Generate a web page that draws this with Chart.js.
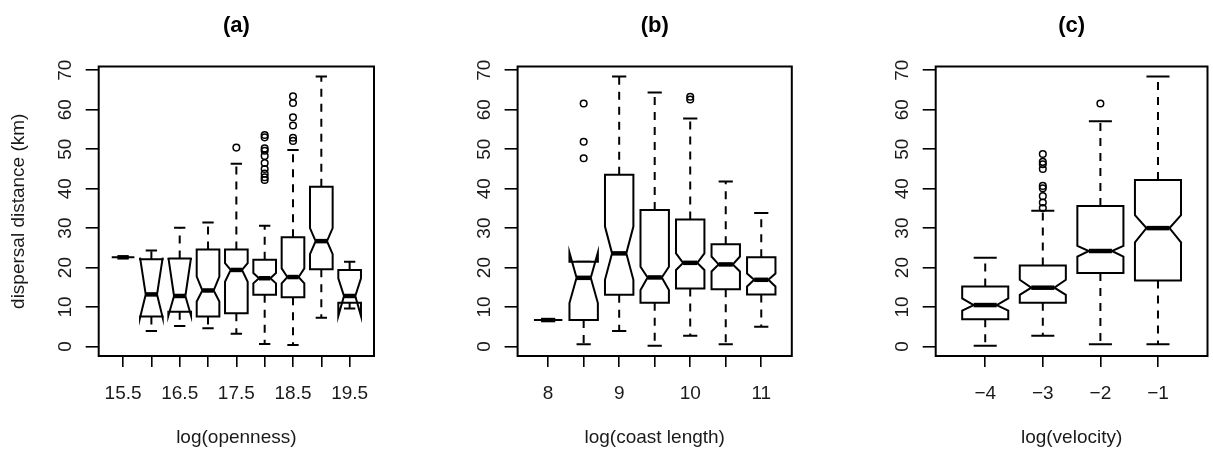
<!DOCTYPE html>
<html>
<head>
<meta charset="utf-8">
<script src="https://cdn.jsdelivr.net/npm/chart.js@4.4.1/dist/chart.umd.min.js"></script>
<style>
  html, body { margin: 0; padding: 0; background: #ffffff; }
  body { width: 1213px; height: 457px; position: relative; overflow: hidden; }
  canvas { position: absolute; top: 0; }
</style>
</head>
<body>
<canvas id="ca" width="404" height="457" style="left:0px"></canvas>
<canvas id="cb" width="404" height="457" style="left:404px"></canvas>
<canvas id="cc" width="405" height="457" style="left:808px"></canvas>
<script>
// ---------- Panel (a): log(openness) ----------
const catsA = [15.5, 16, 16.5, 17, 17.5, 18, 18.5, 19, 19.5];
const tickLabelsA = ['15.5', '', '16.5', '', '17.5', '', '18.5', '', '19.5'];
const whiskLoA = [22.6, 3.9, 5.2, 4.6, 3.2, 0.6, 0.4, 7.3, 9.6];
const q1A      = [22.6, 7.6, 8.8, 7.6, 8.4, 13.1, 12.5, 19.6, 11.1];
const notchLoA = [22.6, 7.3, 7.8, 11.4, 16.4, 16.0, 16.0, 23.4, 7.7];
const medA     = [22.6, 13.2, 12.8, 14.2, 19.4, 17.3, 17.6, 26.7, 12.8];
const notchHiA = [22.6, 22.5, 22.5, 17.7, 21.1, 18.6, 19.8, 30.0, 17.3];
const q3A      = [22.6, 22.1, 22.3, 24.6, 24.6, 22.0, 27.7, 40.5, 19.4];
const whiskHiA = [22.6, 24.3, 30.1, 31.4, 46.3, 30.6, 49.8, 68.4, 21.5];
const outA     = [[], [], [], [], [50.4],
                  [53.6, 53.0, 50.2, 49.6, 48.3, 46.5, 45.0, 43.8, 42.9, 42.2],
                  [63.4, 61.7, 58.1, 56.0, 52.9, 52.1], [], []];

// ---------- Panel (b): log(coast length) ----------
const catsB = [8, 8.5, 9, 9.5, 10, 10.5, 11];
const tickLabelsB = ['8', '', '9', '', '10', '', '11'];
const whiskLoB = [6.7, 0.55, 3.9, 0.2, 2.7, 0.55, 5.0];
const q1B      = [6.7, 6.7, 13.1, 11.1, 14.7, 14.5, 13.2];
const notchLoB = [6.7, 11.0, 16.9, 14.3, 19.4, 19.0, 15.2];
const medB     = [6.7, 17.4, 23.6, 17.5, 21.2, 20.8, 16.9];
const notchHiB = [6.7, 23.8, 30.4, 20.2, 23.6, 22.8, 18.5];
const q3B      = [6.7, 21.5, 43.5, 34.6, 32.2, 25.9, 22.6];
const whiskHiB = [6.7, 21.5, 68.4, 64.4, 57.8, 41.8, 33.8];
const outB     = [[], [61.6, 51.9, 47.7], [], [], [63.3, 62.6], [], []];

// ---------- Panel (c): log(velocity) ----------
const catsC = [-4, -3, -2, -1];
const tickLabelsC = ['\u22124', '\u22123', '\u22122', '\u22121'];
const whiskLoC = [0.2, 2.7, 0.55, 0.55];
const q1C      = [6.9, 11.1, 18.6, 16.7];
const notchLoC = [9.1, 13.1, 22.8, 26.4];
const medC     = [10.5, 14.9, 24.2, 30.0];
const notchHiC = [12.2, 16.9, 25.5, 33.3];
const q3C      = [15.2, 20.5, 35.6, 42.2];
const whiskHiC = [22.5, 34.4, 57.1, 68.4];
const outC     = [[], [48.8, 46.8, 46.2, 45.0, 40.7, 40.1, 38.1, 36.5, 35.1], [61.6], []];

// shared y axis
const yTicks = [0, 10, 20, 30, 40, 50, 60, 70];
const yMin = -2.41, yMax = 70.96;

const panels = [
  { id: 'ca', title: '(a)', xTitle: 'log(openness)', yTitle: 'dispersal distance (km)',
    cats: catsA, tickLabels: tickLabelsA, wlo: whiskLoA, q1: q1A, nlo: notchLoA, med: medA,
    nhi: notchHiA, q3: q3A, whi: whiskHiA, out: outA, plotLeft: 98.7, plotRight: 374 },
  { id: 'cb', title: '(b)', xTitle: 'log(coast length)', yTitle: null,
    cats: catsB, tickLabels: tickLabelsB, wlo: whiskLoB, q1: q1B, nlo: notchLoB, med: medB,
    nhi: notchHiB, q3: q3B, whi: whiskHiB, out: outB, plotLeft: 113.6, plotRight: 387.8 },
  { id: 'cc', title: '(c)', xTitle: 'log(velocity)', yTitle: null,
    cats: catsC, tickLabels: tickLabelsC, wlo: whiskLoC, q1: q1C, nlo: notchLoC, med: medC,
    nhi: notchHiC, q3: q3C, whi: whiskHiC, out: outC, plotLeft: 127.7, plotRight: 402.7 }
];

const FONT = '"Liberation Sans", Arial, Helvetica, sans-serif';
const INK = '#000000';
const TEXT = '#1a1a1a';

function makePlugin(p) {
  return {
    id: 'boxdraw_' + p.id,
    afterDatasetsDraw(chart) {
      const { ctx, chartArea: ca, scales: { x, y } } = chart;
      const n = p.cats.length;
      const halfW = Math.abs(x.getPixelForValue(1.4) - x.getPixelForValue(1)); // boxwex 0.8
      ctx.save();
      ctx.strokeStyle = INK;
      ctx.lineJoin = 'miter';
      for (let i = 0; i < n; i++) {
        const cx = x.getPixelForValue(i + 1);
        const Y = v => y.getPixelForValue(v);
        // whiskers (dashed)
        ctx.lineWidth = 2;
        ctx.setLineDash([8, 7]);
        if (p.whi[i] > p.q3[i]) {
          ctx.beginPath(); ctx.moveTo(cx, Y(p.q3[i])); ctx.lineTo(cx, Y(p.whi[i])); ctx.stroke();
        }
        if (p.wlo[i] < p.q1[i]) {
          ctx.beginPath(); ctx.moveTo(cx, Y(p.q1[i])); ctx.lineTo(cx, Y(p.wlo[i])); ctx.stroke();
        }
        ctx.setLineDash([]);
        // staples
        ctx.beginPath();
        ctx.moveTo(cx - halfW / 2, Y(p.whi[i])); ctx.lineTo(cx + halfW / 2, Y(p.whi[i]));
        ctx.moveTo(cx - halfW / 2, Y(p.wlo[i])); ctx.lineTo(cx + halfW / 2, Y(p.wlo[i]));
        ctx.stroke();
        // notched box polygon (R bxp order)
        const xs = [-1, 1, 1, 0.5, 1, 1, -1, -1, -0.5, -1].map(f => cx + f * halfW);
        const ys = [p.q1[i], p.q1[i], p.nlo[i], p.med[i], p.nhi[i], p.q3[i], p.q3[i], p.nhi[i], p.med[i], p.nlo[i]].map(Y);
        ctx.beginPath();
        ctx.moveTo(xs[0], ys[0]);
        for (let k = 1; k < xs.length; k++) ctx.lineTo(xs[k], ys[k]);
        ctx.closePath();
        ctx.fillStyle = '#ffffff';
        ctx.fill();
        ctx.lineWidth = 2;
        ctx.stroke();
        // median
        ctx.lineWidth = 4.5;
        ctx.lineCap = 'butt';
        ctx.beginPath();
        ctx.moveTo(cx - halfW / 2, Y(p.med[i])); ctx.lineTo(cx + halfW / 2, Y(p.med[i]));
        ctx.stroke();
      }
      ctx.restore();
    },
    afterDraw(chart) {
      const { ctx, chartArea: ca, scales: { x, y } } = chart;
      ctx.save();
      // plot frame
      ctx.strokeStyle = INK;
      ctx.lineWidth = 2;
      ctx.strokeRect(ca.left, ca.top, ca.right - ca.left, ca.bottom - ca.top);
      ctx.fillStyle = TEXT;
      // x tick labels
      ctx.font = '19px ' + FONT;
      ctx.textAlign = 'center';
      ctx.textBaseline = 'alphabetic';
      p.tickLabels.forEach((lab, i) => {
        if (lab) ctx.fillText(lab, x.getPixelForValue(i + 1), 398.5);
      });
      // y tick labels (rotated, parallel to axis)
      yTicks.forEach(v => {
        ctx.save();
        ctx.translate(ca.left - 28, y.getPixelForValue(v));
        ctx.rotate(-Math.PI / 2);
        ctx.textAlign = 'center';
        ctx.fillText(String(v), 0, 0);
        ctx.restore();
      });
      // x title
      ctx.fillText(p.xTitle, (ca.left + ca.right) / 2, 442.5);
      // y title
      if (p.yTitle) {
        ctx.save();
        ctx.translate(24, (ca.top + ca.bottom) / 2);
        ctx.rotate(-Math.PI / 2);
        ctx.fillText(p.yTitle, 0, 0);
        ctx.restore();
      }
      // panel title
      ctx.font = 'bold 22px ' + FONT;
      ctx.fillStyle = '#000';
      ctx.fillText(p.title, (ca.left + ca.right) / 2, 31.5);
      ctx.restore();
    }
  };
}

panels.forEach(p => {
  const canvas = document.getElementById(p.id);
  const W = canvas.width;
  const n = p.cats.length;
  const outliers = [];
  p.out.forEach((arr, i) => arr.forEach(v => outliers.push({ x: i + 1, y: v })));
  const positions = p.cats.map((c, i) => i + 1);
  new Chart(canvas, {
    type: 'scatter',
    data: {
      datasets: [{
        label: 'outliers',
        data: outliers,
        pointStyle: 'circle',
        pointRadius: 3.3,
        pointBorderWidth: 1.5,
        borderColor: INK,
        backgroundColor: 'rgba(0,0,0,0)',
        pointBackgroundColor: 'rgba(255,255,255,0)'
      }]
    },
    options: {
      responsive: false,
      animation: false,
      events: [],
      layout: { padding: { top: 66.5, right: W - p.plotRight, left: 0, bottom: 0 } },
      plugins: { legend: { display: false }, tooltip: { enabled: false }, title: { display: false } },
      scales: {
        x: {
          type: 'linear',
          min: 1 - 0.86,
          max: n + 0.86,
          afterBuildTicks: s => { s.ticks = positions.map(v => ({ value: v })); },
          afterFit: s => { s.height = 457 - 356; },
          ticks: { display: false },
          grid: { drawOnChartArea: false, drawTicks: true, tickLength: 11, color: INK, lineWidth: 1.6 },
          border: { display: false }
        },
        y: {
          type: 'linear',
          min: yMin,
          max: yMax,
          afterBuildTicks: s => { s.ticks = yTicks.map(v => ({ value: v })); },
          afterFit: s => { s.width = p.plotLeft; },
          ticks: { display: false },
          grid: { drawOnChartArea: false, drawTicks: true, tickLength: 13, color: INK, lineWidth: 1.6 },
          border: { display: false }
        }
      }
    },
    plugins: [makePlugin(p)]
  });
});
</script>
</body>
</html>
